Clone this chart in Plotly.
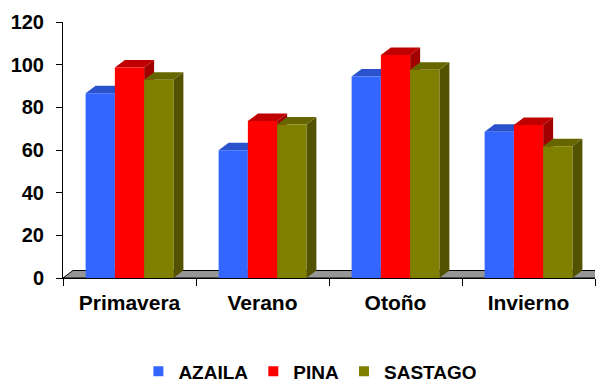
import plotly.graph_objects as go

categories = ["Primavera", "Verano", "Otoño", "Invierno"]
azaila = [86.6, 59.9, 94.4, 68.5]
pina = [98.7, 73.6, 104.5, 71.7]
sastago = [92.9, 72.0, 97.6, 61.8]

series_names = ["AZAILA", "PINA", "SASTAGO"]
series_values = [azaila, pina, sastago]
front_colors = ["#3366FF", "#FF0000", "#808000"]
top_colors = ["#2A52CC", "#C00000", "#666600"]
side_colors = ["#1F3D99", "#A00000", "#525200"]

W, H = 597, 383
ml, mr, mt, mb = 63, 2, 22, 105
plot_w = W - ml - mr
plot_h = H - mt - mb
ymax = 120
ncat = len(categories)
bargap = 0.34
bw = (1 - bargap) / 3
# 3D depth offsets converted to axis units
dx = 10 / (plot_w / ncat)
dy = 7.5 / (plot_h / ymax)

FONT = "Liberation Sans, Arial, sans-serif"

fig = go.Figure()
for name, vals, col in zip(series_names, series_values, front_colors):
    fig.add_trace(go.Bar(x=categories, y=vals, name=name,
                         marker=dict(color=col, line=dict(width=0)), showlegend=False))
for name, col in zip(series_names, front_colors):
    fig.add_trace(go.Scatter(x=[None], y=[None], mode="markers", name=f"<b>{name}</b>",
                             marker=dict(symbol="square", size=10, color=col)))

shapes = []
floor_path = f"M {-0.5},0 L {ncat-0.5},0 L {ncat-0.5+dx},{dy} L {-0.5+dx},{dy} Z"
shapes.append(dict(type="path", path=floor_path, xref="x", yref="y", layer="below",
                   fillcolor="#969696", line=dict(color="black", width=1)))
for k, vals in enumerate(series_values):
    for i, v in enumerate(vals):
        x0 = i - 0.5 * (1 - bargap) + k * bw
        x1 = x0 + bw
        top = f"M {x0},{v} L {x1},{v} L {x1+dx},{v+dy} L {x0+dx},{v+dy} Z"
        side = f"M {x1},0 L {x1},{v} L {x1+dx},{v+dy} L {x1+dx},{dy} Z"
        shapes.append(dict(type="path", path=side, xref="x", yref="y", layer="below",
                           fillcolor=side_colors[k], line=dict(width=0)))
        shapes.append(dict(type="path", path=top, xref="x", yref="y", layer="below",
                           fillcolor=top_colors[k], line=dict(width=0)))

fig.update_layout(
    width=W, height=H,
    margin=dict(l=ml, r=mr, t=mt, b=mb, autoexpand=False),
    paper_bgcolor="white", plot_bgcolor="white",
    barmode="group", bargap=bargap, bargroupgap=0,
    shapes=shapes,
    font=dict(family=FONT, color="black"),
    xaxis=dict(type="category", range=[-0.5, ncat - 0.5], tickson="boundaries",
               ticks="outside", ticklen=7, tickcolor="black", showline=True,
               linecolor="black", linewidth=1, showgrid=False,
               tickprefix="<b>", ticksuffix="</b>", ticklabelstandoff=6,
               tickfont=dict(family=FONT, size=21, color="black"), fixedrange=True),
    yaxis=dict(range=[0, ymax], dtick=20, ticks="outside", ticklen=6, tickcolor="black",
               showline=True, linecolor="black", linewidth=1, showgrid=False,
               zeroline=False, tickprefix="<b>", ticksuffix="</b>", ticklabelstandoff=8,
               tickfont=dict(family=FONT, size=20, color="black"), fixedrange=True),
    legend=dict(orientation="h", x=0.465, xanchor="center", y=-0.365, yanchor="middle",
                font=dict(family=FONT, size=19, color="black"), itemwidth=30,
                bgcolor="rgba(0,0,0,0)"),
)

fig.write_html("out.html")
